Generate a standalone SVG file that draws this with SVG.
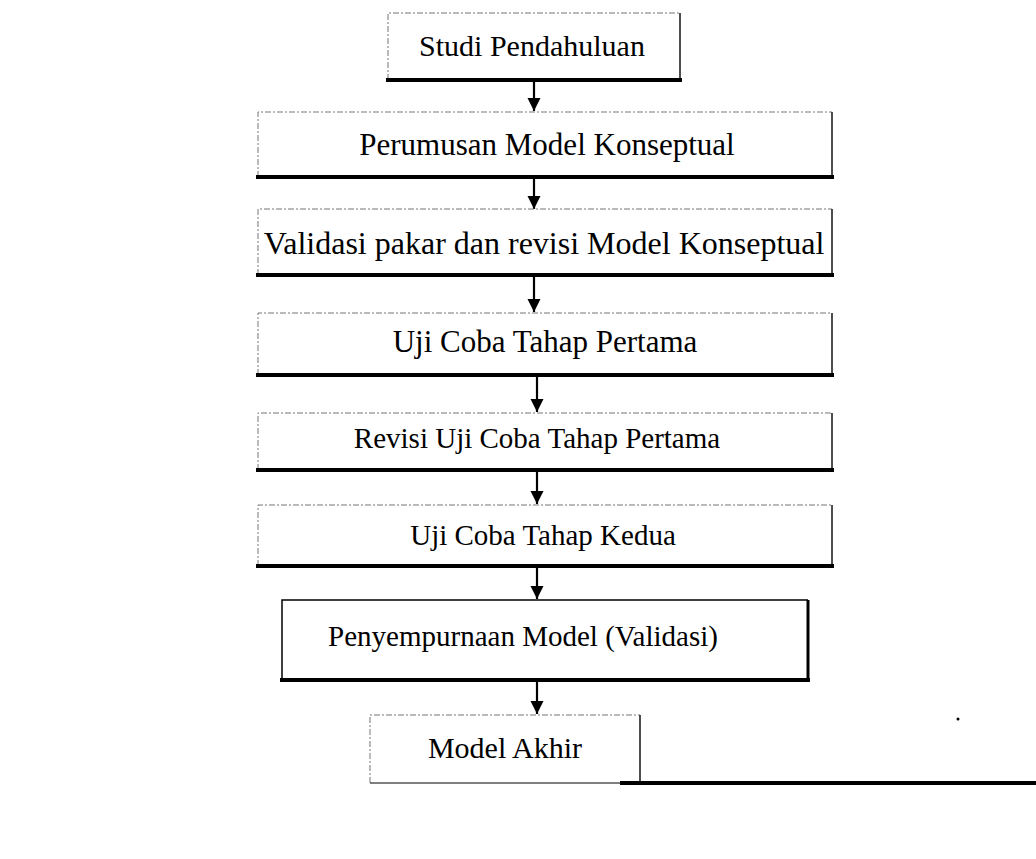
<svg xmlns="http://www.w3.org/2000/svg" width="1036" height="859" viewBox="0 0 1036 859">
<defs>
<style>
.faint{fill:none;stroke:#777;stroke-width:1;stroke-dasharray:6 2 2 2}
.side{fill:none;stroke:#222;stroke-width:1.6}
.bot{fill:none;stroke:#000;stroke-width:4}
.solid{fill:none;stroke:#000;stroke-width:1.5}
.lbl{font-family:"Liberation Serif","Times New Roman",serif;fill:#000;text-anchor:middle}
.wire{stroke:#000;stroke-width:2.2;fill:none}
</style>
<marker id="ah" viewBox="0 0 10 10" refX="10" refY="5" markerWidth="6" markerHeight="6" markerUnits="strokeWidth" orient="auto">
<path d="M0,0 L10,5 L0,10 z" fill="#000"/>
</marker>
</defs>
<rect width="1036" height="859" fill="#fff"/>
<g id="connectors">
<line class="wire" x1="534" y1="81" x2="534" y2="111" marker-end="url(#ah)"/>
<line class="wire" x1="534" y1="178" x2="534" y2="209" marker-end="url(#ah)"/>
<line class="wire" x1="534" y1="277" x2="534" y2="312" marker-end="url(#ah)"/>
<line class="wire" x1="537" y1="377" x2="537" y2="412" marker-end="url(#ah)"/>
<line class="wire" x1="537" y1="472" x2="537" y2="504" marker-end="url(#ah)"/>
<line class="wire" x1="537" y1="568" x2="537" y2="599" marker-end="url(#ah)"/>
<line class="wire" x1="537" y1="682" x2="537" y2="714" marker-end="url(#ah)"/>
</g>
<g id="n1">
<path class="faint" d="M388,80 V13 H680"/>
<path class="side" d="M680,13 V80"/>
<path class="bot" d="M386,80 H682"/>
<text class="lbl" x="532" y="56" font-size="30">Studi Pendahuluan</text>
</g>
<g id="n2">
<path class="faint" d="M258,177 V112 H832"/>
<path class="side" d="M832,112 V177"/>
<path class="bot" d="M256,177 H834"/>
<text class="lbl" x="547" y="155" font-size="31">Perumusan Model Konseptual</text>
</g>
<g id="n3">
<path class="faint" d="M258,275 V209 H832"/>
<path class="side" d="M832,209 V275"/>
<path class="bot" d="M256,275 H834"/>
<text class="lbl" x="544" y="254" font-size="32">Validasi pakar dan revisi Model Konseptual</text>
</g>
<g id="n4">
<path class="faint" d="M258,375 V313 H832"/>
<path class="side" d="M832,313 V375"/>
<path class="bot" d="M256,375 H834"/>
<text class="lbl" x="545" y="352" font-size="31">Uji Coba Tahap Pertama</text>
</g>
<g id="n5">
<path class="faint" d="M258,470 V413 H832"/>
<path class="side" d="M832,413 V470"/>
<path class="bot" d="M256,470 H834"/>
<text class="lbl" x="537" y="448" font-size="29">Revisi Uji Coba Tahap Pertama</text>
</g>
<g id="n6">
<path class="faint" d="M258,566 V505 H832"/>
<path class="side" d="M832,505 V566"/>
<path class="bot" d="M256,566 H834"/>
<text class="lbl" x="543" y="545" font-size="29">Uji Coba Tahap Kedua</text>
</g>
<g id="n7">
<path class="solid" d="M282,680 V600 H808"/>
<path d="M808,600 V680" stroke="#000" stroke-width="3" fill="none"/>
<path class="bot" d="M280,680 H810"/>
<text class="lbl" x="523" y="646" font-size="29">Penyempurnaan Model (Validasi)</text>
</g>
<g id="n8">
<path class="faint" d="M370,783 V715 H640"/>
<path class="side" d="M640,715 V783"/>
<path d="M370,783 H620" stroke="#555" stroke-width="1.5" fill="none"/>
<path class="bot" d="M620,783 H1036"/>
<text class="lbl" x="505" y="758" font-size="30">Model Akhir</text>
</g>
<circle cx="958" cy="719" r="1.5" fill="#000"/>
</svg>
